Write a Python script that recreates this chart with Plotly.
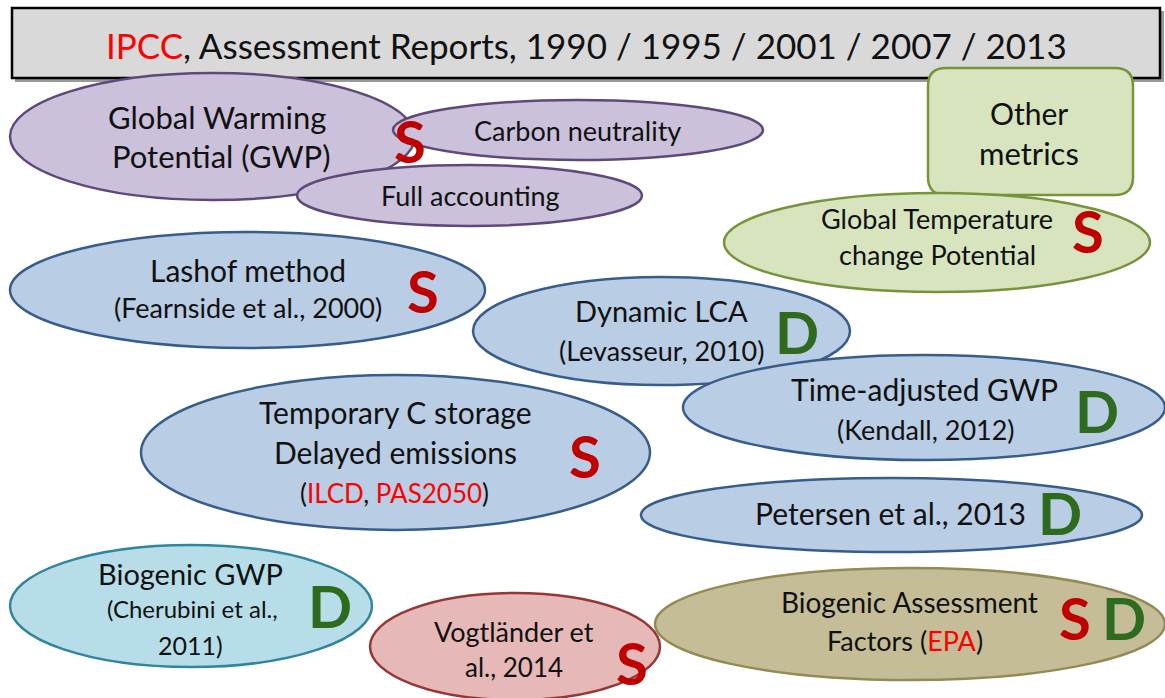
import plotly.graph_objects as go

W, H = 1165, 698
FONT = "Lato"
S_COL = "#c00000"
D_COL = "#2f6b1f"

# ---- header ----
header_text = "<span style='color:#ff0000'>IPCC</span>, Assessment Reports, 1990 / 1995 / 2001 / 2007 / 2013"

# ---- ellipses: name, x0, y0, x1, y1, fill, border ----
PURPLE = ("#ccc1da", "#5f497a")
BLUE = ("#b9cde5", "#385d8a")
GREEN = ("#d7e4bd", "#77933c")
TEAL = ("#b7dee8", "#31859c")
PINK = ("#e6b9b8", "#953735")
OLIVE = ("#c4bd97", "#948a54")

ell_names = ["GWP", "Full accounting", "Carbon neutrality", "GTP", "Lashof", "Dynamic LCA",
             "Temporary", "Time-adjusted", "Petersen", "Biogenic GWP", "Vogtlander", "BAF"]
ell_x0 = [10, 297, 393, 724, 10, 473, 141, 683, 641, 10, 370, 655]
ell_y0 = [73, 165, 100, 193, 232, 277, 375, 355, 478, 545, 593, 568]
ell_x1 = [415, 642, 763, 1150, 485, 850, 650, 1165, 1142, 372, 660, 1165]
ell_y1 = [200, 226, 160, 292, 348, 385, 530, 460, 552, 667, 700, 680]
ell_style = [PURPLE, PURPLE, PURPLE, GREEN, BLUE, BLUE, BLUE, BLUE, BLUE, TEAL, PINK, OLIVE]

# ---- text lines: text, x, y, size ----
txt_text = ["Global Warming", "Potential (GWP)", "Carbon neutrality", "Full accounting",
            "Other", "metrics", "Global Temperature", "change Potential",
            "Lashof method", "(Fearnside et al., 2000)", "Dynamic LCA", "(Levasseur, 2010)",
            "Time-adjusted GWP", "(Kendall, 2012)",
            "Temporary C storage", "Delayed emissions",
            "(<span style='color:#ff0000'>ILCD</span>, <span style='color:#ff0000'>PAS2050</span>)",
            "Petersen et al., 2013", "Biogenic GWP", "(Cherubini et al.,", "2011)",
            "Vogtländer et", "al., 2014", "Biogenic Assessment",
            "Factors (<span style='color:#ff0000'>EPA</span>)"]
txt_x = [217, 221, 577, 470, 1029, 1029, 937, 937, 248, 248, 661, 661, 924, 926,
         395, 395, 394, 890, 190, 192, 190, 514, 514, 909, 905]
txt_y = [117, 156, 130, 195, 113, 153, 218, 254, 270, 307, 310, 350, 389, 429,
         412, 452, 493, 513, 573, 608, 645, 631, 667, 602, 640]
txt_size = [31, 31, 27, 27, 30, 31, 27, 27, 30, 27, 29, 27, 30, 27,
            30, 30, 26, 30, 29, 24, 25, 27, 26, 28, 27]

# ---- S / D markers ----
mark_text = ["S", "S", "S", "D", "D", "S", "D", "D", "S", "S", "D"]
mark_x = [410, 1088, 423, 797, 1097, 585, 1060, 330, 632, 1075, 1124]
mark_y = [140, 230, 290, 331, 410, 455, 512, 605, 662, 617, 617]

fig = go.Figure()
fig.add_trace(go.Scatter(x=[0, W], y=[0, H], mode="markers", marker=dict(opacity=0),
                         hoverinfo="skip", showlegend=False))

shapes = []
# header shadow + box
shapes.append(dict(type="rect", x0=15, y0=11, x1=1164, y1=82, fillcolor="#9a9a9a",
                   line=dict(width=0), layer="above"))
shapes.append(dict(type="rect", x0=12, y0=8, x1=1160, y1=78, fillcolor="#d9d9d9",
                   line=dict(color="#000000", width=2.5), layer="above"))

def rounded(x0, y0, x1, y1, r):
    return (f"M {x0+r},{y0} L {x1-r},{y0} Q {x1},{y0} {x1},{y0+r} L {x1},{y1-r} "
            f"Q {x1},{y1} {x1-r},{y1} L {x0+r},{y1} Q {x0},{y1} {x0},{y1-r} "
            f"L {x0},{y0+r} Q {x0},{y0} {x0+r},{y0} Z")

for i, n in enumerate(ell_names):
    if n == "GTP":
        shapes.append(dict(type="path", path=rounded(928, 68, 1133, 195, 18),
                           fillcolor=GREEN[0], line=dict(color=GREEN[1], width=2.5), layer="above"))
    fill, border = ell_style[i]
    shapes.append(dict(type="circle", x0=ell_x0[i], y0=ell_y0[i], x1=ell_x1[i], y1=ell_y1[i],
                       fillcolor=fill, line=dict(color=border, width=2.5), layer="above"))

annotations = [dict(x=586, y=45, text=header_text, showarrow=False,
                    font=dict(family=FONT, size=35, color="#111111"),
                    xanchor="center", yanchor="middle")]
for t, x, y, s in zip(txt_text, txt_x, txt_y, txt_size):
    annotations.append(dict(x=x, y=y, text=t, showarrow=False,
                            font=dict(family=FONT, size=s, color="#111111"),
                            xanchor="center", yanchor="middle"))
for t, x, y in zip(mark_text, mark_x, mark_y):
    annotations.append(dict(x=x, y=y, text=f"<b>{t}</b>", showarrow=False,
                            font=dict(family=FONT, size=58, color=S_COL if t == "S" else D_COL),
                            xanchor="center", yanchor="middle"))

fig.update_layout(
    width=W, height=H, margin=dict(l=0, r=0, t=0, b=0),
    paper_bgcolor="white", plot_bgcolor="white",
    xaxis=dict(range=[0, W], visible=False, fixedrange=True),
    yaxis=dict(range=[H, 0], visible=False, fixedrange=True),
    shapes=shapes, annotations=annotations, showlegend=False,
)
fig.write_html("out.html", config={"displayModeBar": False})

with open("out.html", "r", encoding="utf-8") as fh:
    html = fh.read()
html = html.replace("<body>", '<body style="margin:0;padding:0;overflow:hidden">', 1)
with open("out.html", "w", encoding="utf-8") as fh:
    fh.write(html)
